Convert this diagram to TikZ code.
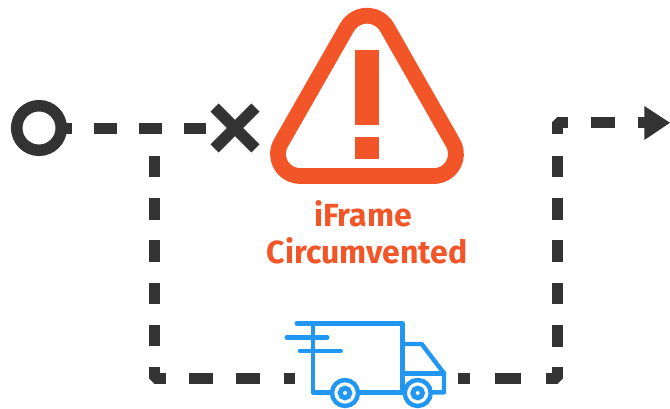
\documentclass[tikz,border=0pt]{standalone}
\usepackage{fontspec}
\setmainfont{Fira Sans}
\definecolor{dark}{HTML}{333333}
\definecolor{warn}{HTML}{F25527}
\definecolor{truckblue}{HTML}{2196F3}
\tikzset{
  hdash/.style={draw=dark,line width=11pt,dash pattern=on 22.5pt off 22.2pt},
  vdash/.style={draw=dark,line width=11pt,dash pattern=on 21.5pt off 20.8pt},
  elbow/.style={draw=dark,line width=11pt,line join=bevel},
  solidseg/.style={draw=dark,line width=11pt},
  truckline/.style={draw=truckblue,line width=4.4pt,line cap=round,line join=round},
  wheelring/.style={draw=truckblue,fill=white,line width=4.4pt},
  hubring/.style={draw=truckblue,fill=white,line width=5pt},
  warnlabel/.style={text=warn,font=\fontsize{32}{38}\selectfont\bfseries,anchor=base,inner sep=0pt}
}
\begin{document}
\begin{tikzpicture}[x=1pt,y=1pt]
\useasboundingbox (0,0) rectangle (670,-408);
% named points
\coordinate (stubstart) at (49.7,-128.5);
\coordinate (xend) at (206,-128.5);
\coordinate (branchA) at (154.7,-155.7);
\coordinate (branchB) at (154.7,-346.5);
\coordinate (branchStub) at (154.7,-123);
\coordinate (branchStubEnd) at (154.7,-134.3);
\coordinate (cornerBLa) at (154.7,-367.3);
\coordinate (cornerBL) at (154.7,-378.5);
\coordinate (cornerBLb) at (165.7,-378.5);
\coordinate (botA) at (189.3,-378.5);
\coordinate (botB) at (295,-378.5);
\coordinate (botC) at (458.3,-378.5);
\coordinate (botD) at (469.5,-378.5);
\coordinate (botE) at (495,-378.5);
\coordinate (botF) at (520.5,-378.5);
\coordinate (cornerBRa) at (546,-378.5);
\coordinate (cornerBR) at (557.2,-378.5);
\coordinate (cornerBRb) at (557.2,-366.7);
\coordinate (riseA) at (557.2,-346.5);
\coordinate (riseB) at (557.2,-155);
\coordinate (cornerTRa) at (557.2,-134);
\coordinate (cornerTR) at (557.2,-122.8);
\coordinate (cornerTRb) at (568,-122.8);
\coordinate (topA) at (591.3,-122.8);
\coordinate (topB) at (614.7,-122.8);
\coordinate (arrowStub) at (637.7,-122.8);
\coordinate (arrowBase) at (646,-122.8);
% dashed route
\draw[hdash] (stubstart) -- (xend);
\draw[solidseg] (branchStub) -- (branchStubEnd);
\draw[vdash] (branchA) -- (branchB);
\draw[elbow] (cornerBLa) -- (cornerBL) -- (cornerBLb);
\draw[draw=dark,line width=11pt,dash pattern=on 23.7pt off 23.4pt] (botA) -- (botB);
\draw[solidseg] (botC) -- (botD);
\draw[solidseg] (botE) -- (botF);
\draw[elbow] (cornerBRa) -- (cornerBR) -- (cornerBRb);
\draw[vdash] (riseA) -- (riseB);
\draw[elbow] (cornerTRa) -- (cornerTR) -- (cornerTRb);
\draw[solidseg] (topA) -- (topB);
\draw[solidseg] (arrowStub) -- (arrowBase);
\fill[dark] (644.3,-106) -- (670,-122.8) -- (644.3,-140) -- cycle;
% start ring
\node[circle,draw=dark,fill=white,line width=11.5pt,minimum size=44.6pt,inner sep=0pt,outer sep=0pt] (startring) at (39,-128) {};
% cross
\draw[draw=dark,line width=11.5pt] (214.6,-107.6) -- (255.4,-148.4);
\draw[draw=dark,line width=11.5pt] (214.6,-148.4) -- (255.4,-107.6);
% warning triangle
\draw[warn,line width=15.8pt,line join=round]
  (347.1,-27.2) arc[start angle=150,end angle=30,radius=23pt]
  -- (453,-143) arc[start angle=30,end angle=-90,radius=22pt]
  -- (300,-176) arc[start angle=270,end angle=150,radius=22pt]
  -- cycle;
\fill[warn] (355,-50) rectangle (379.3,-125.3);
\fill[warn] (355,-137.3) rectangle (379.3,-159.3);
% label
\node[warnlabel] (labelA) at (363,-226) {iFrame};
\node[warnlabel] (labelB) at (367,-263.3) {Circumvented};
% truck
\draw[truckline] (296.7,-323.3) -- (402.5,-323.3) -- (402.5,-392.3) -- (312.7,-392.3) -- (312.7,-323.3);
\draw[truckline] (286.7,-337.3) -- (327.3,-337.3);
\draw[truckline] (300,-350.7) -- (340.7,-350.7);
\draw[truckline] (402.5,-344) -- (421.7,-344) -- (444,-373.3) -- (444,-392.3) -- (402.5,-392.3);
\draw[truckline] (402.5,-373.3) -- (444,-373.3);
\node[circle,wheelring,minimum size=26pt,inner sep=0pt,outer sep=0pt] (wheelL) at (345,-393) {};
\node[circle,wheelring,minimum size=26pt,inner sep=0pt,outer sep=0pt] (wheelR) at (417.7,-393) {};
\node[circle,hubring,minimum size=9.6pt,inner sep=0pt,outer sep=0pt] (hubL) at (wheelL) {};
\node[circle,hubring,minimum size=9.6pt,inner sep=0pt,outer sep=0pt] (hubR) at (wheelR) {};
\end{tikzpicture}
\end{document}
